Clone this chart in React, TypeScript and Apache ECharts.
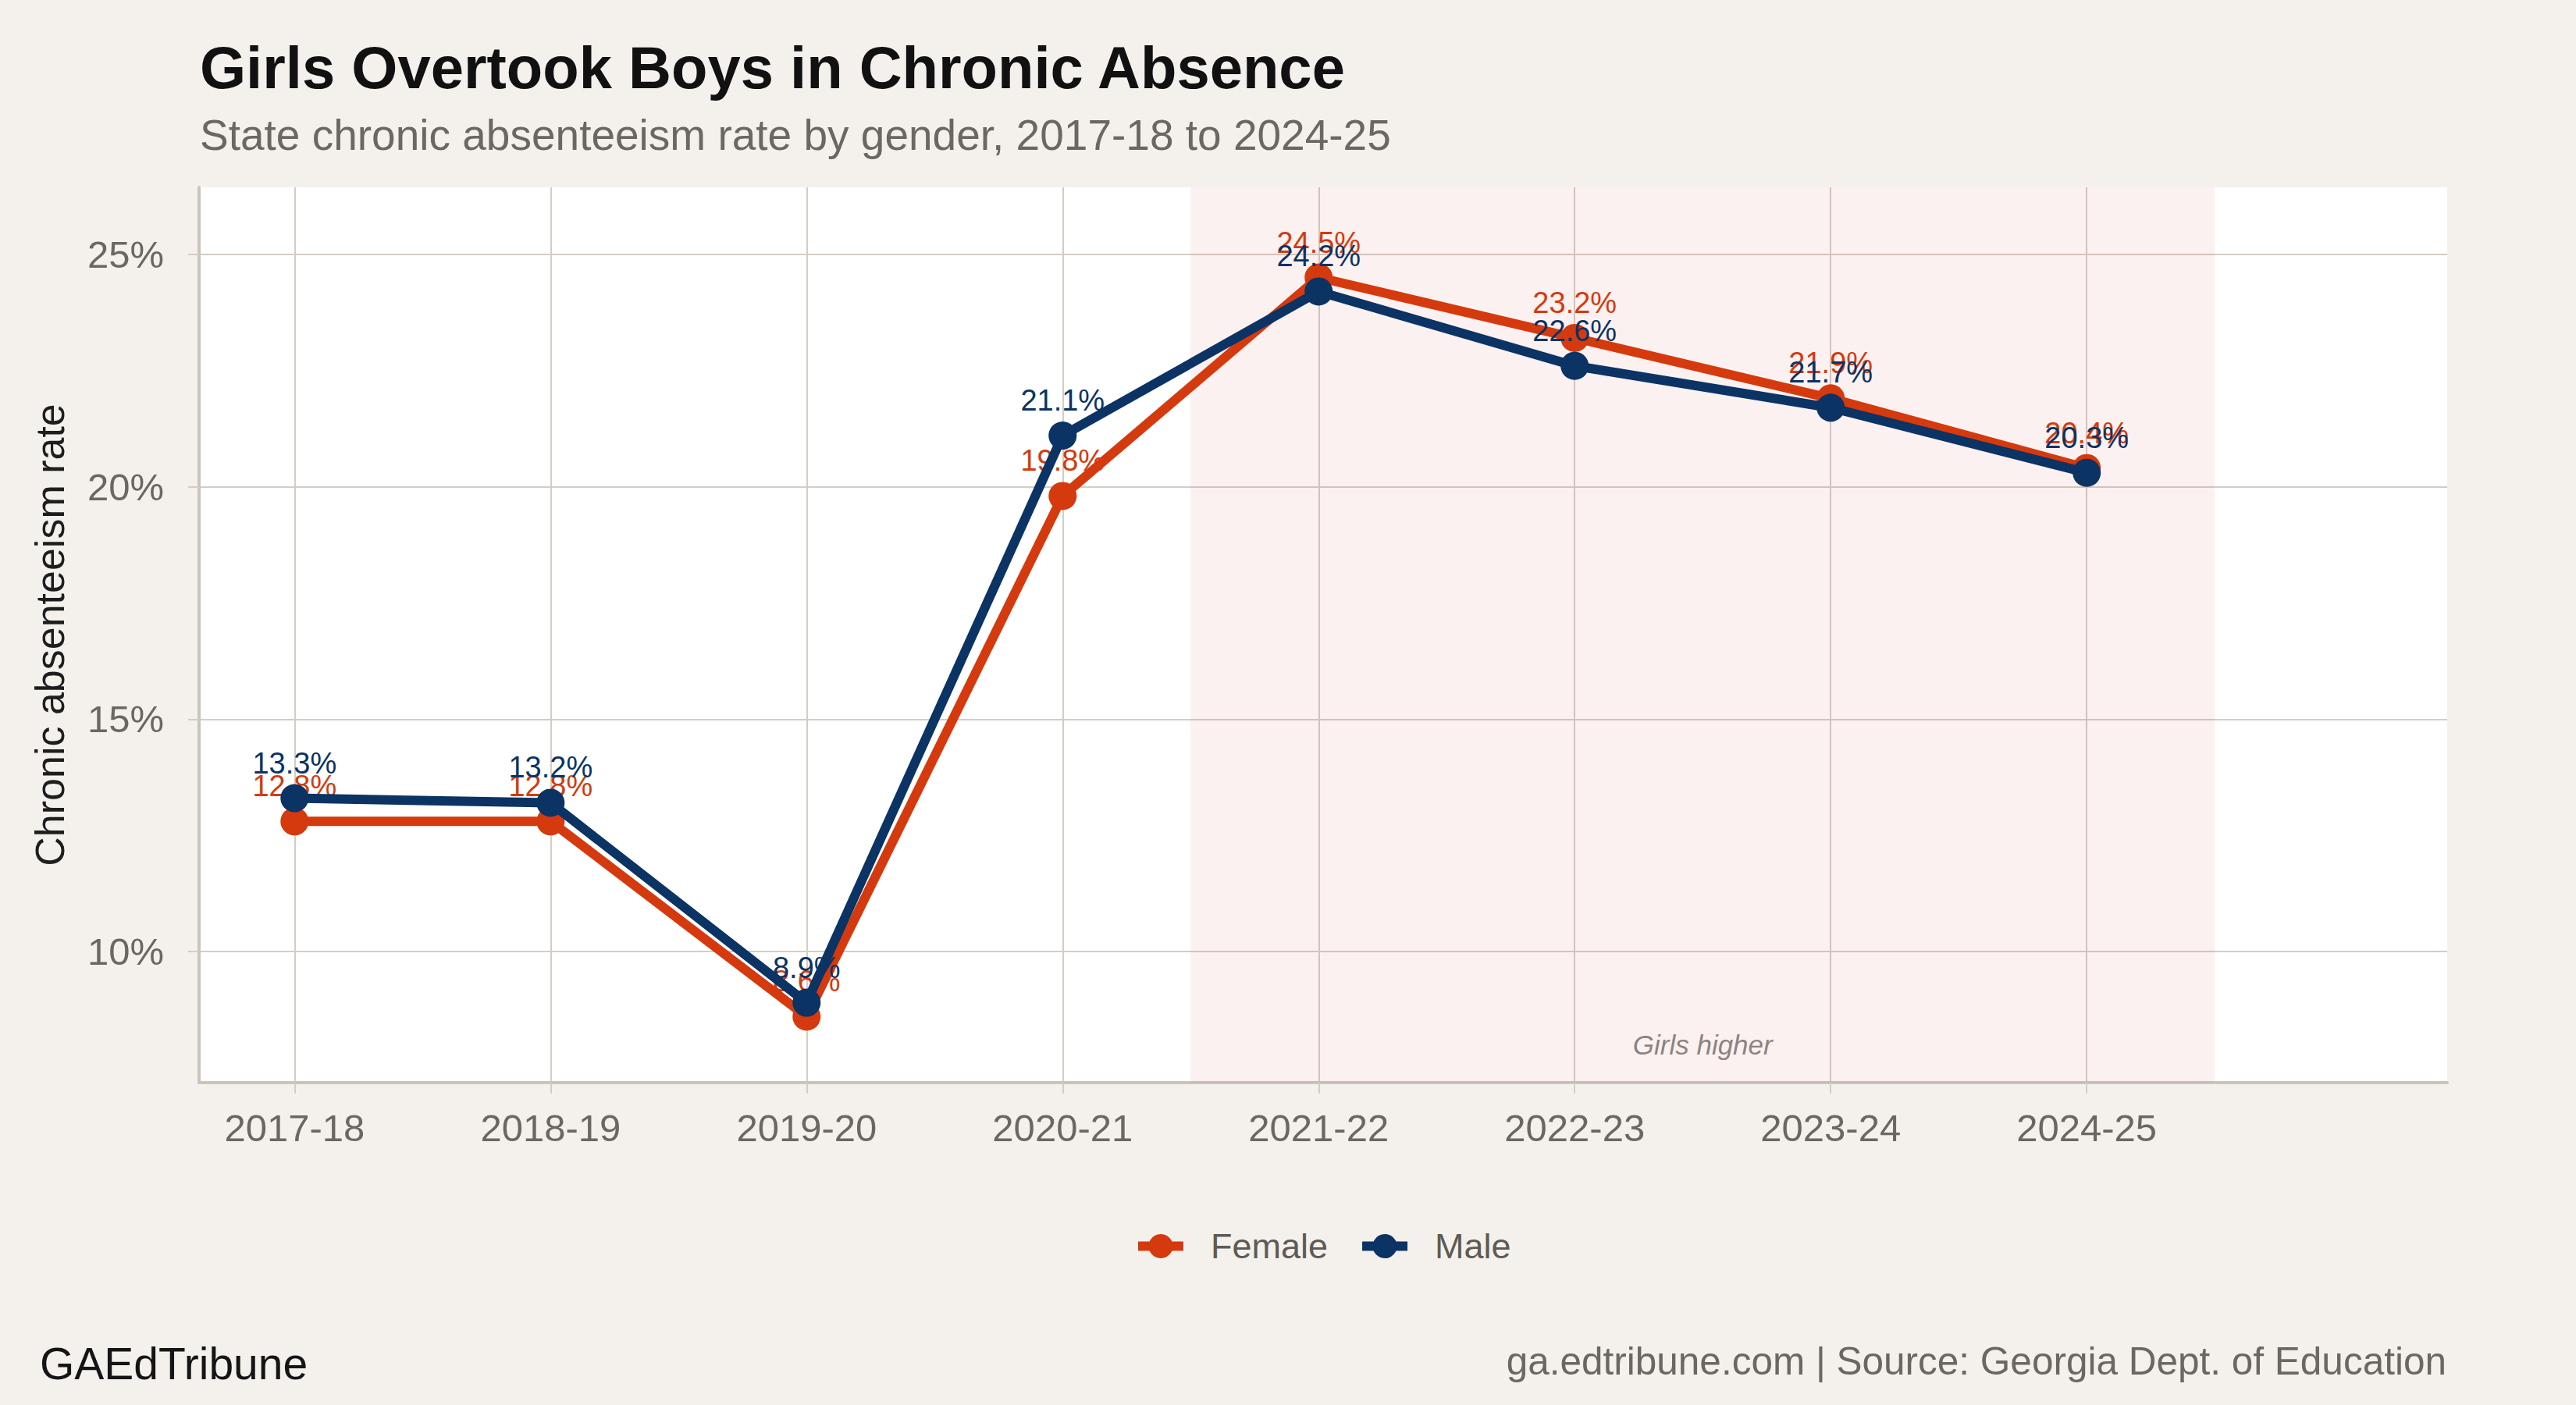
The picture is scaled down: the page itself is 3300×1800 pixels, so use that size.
import React, { useEffect, useRef } from 'react';
import * as echarts from 'echarts';

const categories = ['2017-18', '2018-19', '2019-20', '2020-21', '2021-22', '2022-23', '2023-24', '2024-25'];
const femaleRates = [12.8, 12.8, 8.6, 19.8, 24.5, 23.2, 21.9, 20.4];
const maleRates = [13.3, 13.2, 8.9, 21.1, 24.2, 22.6, 21.7, 20.3];
const yTickValues = [10, 15, 20, 25];
const xTickValues = [0, 1, 2, 3, 4, 5, 6, 7];
const shadeStart = 3.5;
const shadeEnd = 7.5;
const annotationPoint = [5.5, 8.0];

const FONT = '"Liberation Sans", Arial, Helvetica, sans-serif';
const FEMALE = '#D43A0E';
const MALE = '#0B3364';
const GRID = '#D3CDC5';
const AXIS = '#CBC4BA';
const GRAY = '#6B6761';

export default function App() {
  const ref = useRef<HTMLDivElement>(null);
  useEffect(() => {
    if (!ref.current) return;
    const chart = echarts.init(ref.current, undefined, { renderer: 'svg' });
    const labelFor = (color: string) => ({
      show: true,
      position: 'top',
      distance: 8,
      color,
      fontSize: 38,
      fontFamily: FONT,
      formatter: (p: any) => Number(p.value[1]).toFixed(1) + '%',
    });
    chart.setOption({
      animation: false,
      backgroundColor: '#F4F1EC',
      textStyle: { fontFamily: FONT },
      grid: {
        show: true,
        backgroundColor: '#FFFFFF',
        borderWidth: 0,
        left: 255,
        right: 165,
        top: 240,
        bottom: 413,
      },
      xAxis: {
        type: 'value',
        min: -0.373,
        max: 8.408,
        axisLine: { show: true, onZero: false, lineStyle: { color: AXIS, width: 4 } },
        axisTick: { show: true, length: 14, customValues: xTickValues, lineStyle: { color: GRID, width: 2 } },
        axisLabel: {
          show: true,
          customValues: xTickValues,
          margin: 33,
          fontSize: 49,
          color: GRAY,
          fontFamily: FONT,
          formatter: (v: number) => categories[Math.round(v)] ?? '',
        },
        splitLine: { show: true, lineStyle: { color: GRID, width: 2 } },
      },
      yAxis: {
        type: 'value',
        min: 7.18,
        max: 26.44,
        name: 'Chronic absenteeism rate',
        nameLocation: 'middle',
        nameGap: 165,
        nameTextStyle: { fontSize: 52, color: '#1E1E1E', fontFamily: FONT },
        axisLine: { show: true, onZero: false, lineStyle: { color: AXIS, width: 4 } },
        axisTick: { show: true, length: 14, customValues: yTickValues, lineStyle: { color: GRID, width: 2 } },
        axisLabel: {
          show: true,
          customValues: yTickValues,
          margin: 45,
          fontSize: 49,
          color: GRAY,
          fontFamily: FONT,
          formatter: (v: number) => `${v}%`,
        },
        splitLine: { show: true, lineStyle: { color: GRID, width: 2 } },
      },
      legend: {
        data: ['Female', 'Male'],
        left: 1452,
        top: 1574,
        padding: 0,
        itemGap: 38,
        itemWidth: 58,
        itemHeight: 39,
        lineStyle: { width: 12 },
        textStyle: { fontSize: 45, color: '#5F5A55', fontFamily: FONT, padding: [0, 0, 0, 30] },
      },
      series: [
        {
          name: 'shade',
          type: 'line',
          data: [],
          z: 1,
          silent: true,
          markArea: {
            silent: true,
            itemStyle: { color: 'rgba(215,105,85,0.09)' },
            data: [[{ xAxis: shadeStart }, { xAxis: shadeEnd }]],
          },
        },
        {
          name: 'Female',
          type: 'line',
          z: 3,
          data: femaleRates.map((v, i) => [i, v]),
          symbol: 'circle',
          symbolSize: 36,
          lineStyle: { color: FEMALE, width: 12 },
          itemStyle: { color: FEMALE },
          label: labelFor(FEMALE),
        },
        {
          name: 'Male',
          type: 'line',
          z: 4,
          data: maleRates.map((v, i) => [i, v]),
          symbol: 'circle',
          symbolSize: 36,
          lineStyle: { color: MALE, width: 12 },
          itemStyle: { color: MALE },
          label: labelFor(MALE),
        },
        {
          name: 'annotation',
          type: 'scatter',
          z: 2,
          silent: true,
          symbolSize: 0,
          data: [annotationPoint],
          label: {
            show: true,
            position: 'inside',
            formatter: 'Girls higher',
            fontStyle: 'italic',
            fontSize: 35,
            color: GRAY,
            fontFamily: FONT,
          },
        },
      ],
      graphic: [
        {
          type: 'text',
          x: 256,
          y: 86,
          style: {
            text: 'Girls Overtook Boys in Chronic Absence',
            font: `bold 76px ${FONT}`,
            fill: '#111111',
            align: 'left',
            verticalAlign: 'middle',
          },
        },
        {
          type: 'text',
          x: 256,
          y: 173,
          style: {
            text: 'State chronic absenteeism rate by gender, 2017-18 to 2024-25',
            font: `55px ${FONT}`,
            fill: GRAY,
            align: 'left',
            verticalAlign: 'middle',
          },
        },
        {
          type: 'text',
          x: 51,
          y: 1747,
          style: {
            text: 'GAEdTribune',
            font: `57px ${FONT}`,
            fill: '#151515',
            align: 'left',
            verticalAlign: 'middle',
          },
        },
        {
          type: 'text',
          x: 3134,
          y: 1743,
          style: {
            text: 'ga.edtribune.com | Source: Georgia Dept. of Education',
            font: `49.5px ${FONT}`,
            fill: GRAY,
            align: 'right',
            verticalAlign: 'middle',
          },
        },
      ],
    });
    return () => chart.dispose();
  }, []);
  return (
    <div
      ref={ref}
      style={{ position: 'fixed', left: 0, top: 0, width: 3300, height: 1800, background: '#F4F1EC' }}
    />
  );
}
